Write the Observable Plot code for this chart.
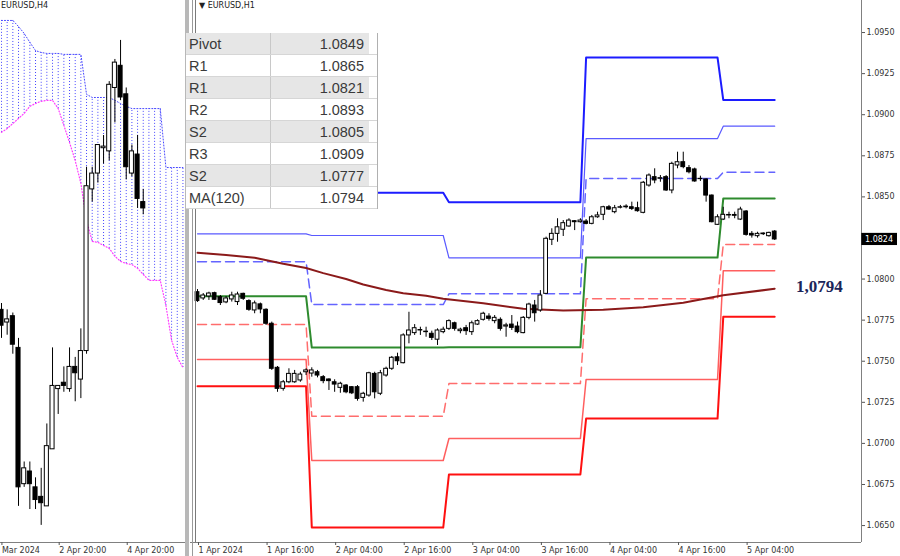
<!DOCTYPE html>
<html><head><meta charset="utf-8">
<script src="https://cdn.jsdelivr.net/npm/d3@7"></script>
<script src="https://cdn.jsdelivr.net/npm/@observablehq/plot@0.6"></script>
<style>
html,body{margin:0;padding:0;background:#fff;}
#wrap{position:relative;width:900px;height:556px;overflow:hidden;background:#fff;font-family:"DejaVu Sans",sans-serif;}
#left{position:absolute;left:0;top:0;width:186px;height:556px;overflow:hidden;}
#right{position:absolute;left:190px;top:0;width:710px;height:556px;}
.sym{position:absolute;top:1px;font-size:8px;color:#222;font-family:"DejaVu Sans",sans-serif;white-space:nowrap;}
#sepA{position:absolute;left:185px;top:0;width:4px;height:556px;background:#b8b8b8;}
#sepB{position:absolute;left:192px;top:0;width:1px;height:556px;background:#9a9a9a;}
#sepC{position:absolute;left:195px;top:0;width:1px;height:542px;background:#7a7a7a;}
#table{position:absolute;left:186px;top:33px;width:191px;background:#fff;border-right:1px solid #b0b0b0;}
.row{display:flex;height:22px;border-bottom:1px solid #d6d6d6;box-sizing:border-box;font-family:"Liberation Sans",sans-serif;font-size:14.5px;color:#3a3a3a;align-items:center;}
.row .lab{width:85px;padding-left:3px;box-sizing:border-box;height:100%;display:flex;align-items:center;border-right:1px solid #c8c8c8;}
.row .val{width:98px;text-align:right;padding-right:5px;box-sizing:border-box;}
.row.g .lab,.row.g .val{background:#e6e6e6;}
.row .val{height:100%;display:flex;align-items:center;justify-content:flex-end;}
</style></head>
<body>
<div id="wrap">
  <div id="left"></div>
  <div id="right"></div>
  <div id="sepA"></div><div id="sepB"></div><div id="sepC"></div>
  <div class="sym" style="left:1px;">EURUSD,H4</div>
  <div class="sym" style="left:199px;">&#9660; EURUSD,H1</div>
  <div id="table"></div>
</div>
<script>
// ---------- H1 candles (right panel), hour index from 1 Apr 00:00 ----------
const h1Start = 4;
const h1Open = [1.07920,1.07882,1.07894,1.07914,1.07890,1.07858,1.07876,1.07860,1.07910,1.07866,1.07809,1.07846,1.07813,1.07728,1.07460,1.07332,1.07372,1.07372,1.07383,1.07433,1.07425,1.07433,1.07403,1.07389,1.07372,1.07338,1.07352,1.07342,1.07342,1.07277,1.07291,1.07423,1.07302,1.07413,1.07454,1.07524,1.07488,1.07657,1.07671,1.07687,1.07680,1.07667,1.07631,1.07677,1.07697,1.07731,1.07683,1.07701,1.07677,1.07723,1.07752,1.07772,1.07744,1.07752,1.07711,1.07723,1.07711,1.07671,1.07764,1.07839,1.07809,1.07910,1.08239,1.08275,1.08300,1.08320,1.08352,1.08346,1.08350,1.08336,1.08376,1.08391,1.08437,1.08407,1.08434,1.08437,1.08437,1.08431,1.08403,1.08569,1.08620,1.08610,1.08620,1.08539,1.08691,1.08711,1.08675,1.08667,1.08608,1.08606,1.08508,1.08330,1.08362,1.08390,1.08390,1.08362,1.08411,1.08275,1.08261,1.08277,1.08261,1.08289];
const h1High = [1.07936,1.07912,1.07920,1.07920,1.07900,1.07894,1.07920,1.07920,1.07914,1.07874,1.07866,1.07854,1.07819,1.07738,1.07468,1.07383,1.07454,1.07444,1.07433,1.07454,1.07460,1.07444,1.07413,1.07393,1.07387,1.07372,1.07358,1.07346,1.07352,1.07311,1.07433,1.07433,1.07444,1.07464,1.07529,1.07549,1.07667,1.07798,1.07723,1.07707,1.07707,1.07683,1.07697,1.07707,1.07752,1.07738,1.07701,1.07718,1.07744,1.07752,1.07798,1.07789,1.07778,1.07764,1.07731,1.07778,1.07738,1.07772,1.07853,1.07870,1.07930,1.08255,1.08306,1.08367,1.08356,1.08367,1.08356,1.08367,1.08362,1.08387,1.08407,1.08443,1.08448,1.08448,1.08448,1.08452,1.08468,1.08468,1.08594,1.08640,1.08671,1.08630,1.08630,1.08711,1.08772,1.08772,1.08691,1.08675,1.08626,1.08610,1.08512,1.08391,1.08437,1.08407,1.08407,1.08437,1.08417,1.08289,1.08285,1.08281,1.08285,1.08295];
const h1Low = [1.07858,1.07870,1.07870,1.07870,1.07839,1.07850,1.07860,1.07839,1.07870,1.07804,1.07789,1.07789,1.07718,1.07444,1.07311,1.07318,1.07363,1.07366,1.07372,1.07413,1.07403,1.07399,1.07363,1.07322,1.07311,1.07305,1.07302,1.07297,1.07257,1.07251,1.07281,1.07271,1.07291,1.07403,1.07444,1.07474,1.07484,1.07606,1.07657,1.07657,1.07646,1.07626,1.07596,1.07667,1.07687,1.07683,1.07667,1.07657,1.07657,1.07718,1.07744,1.07744,1.07728,1.07683,1.07646,1.07687,1.07667,1.07667,1.07752,1.07738,1.07798,1.07906,1.08204,1.08224,1.08259,1.08315,1.08295,1.08340,1.08330,1.08330,1.08370,1.08356,1.08417,1.08397,1.08427,1.08427,1.08417,1.08407,1.08397,1.08559,1.08580,1.08589,1.08533,1.08519,1.08671,1.08671,1.08640,1.08589,1.08594,1.08468,1.08342,1.08326,1.08356,1.08367,1.08367,1.08356,1.08261,1.08249,1.08249,1.08265,1.08255,1.08235];
const h1Close = [1.07866,1.07900,1.07912,1.07874,1.07854,1.07882,1.07900,1.07906,1.07880,1.07813,1.07852,1.07815,1.07728,1.07454,1.07332,1.07372,1.07423,1.07423,1.07419,1.07444,1.07444,1.07413,1.07379,1.07379,1.07358,1.07363,1.07311,1.07305,1.07271,1.07302,1.07427,1.07311,1.07427,1.07454,1.07521,1.07500,1.07657,1.07687,1.07701,1.07690,1.07677,1.07642,1.07687,1.07692,1.07744,1.07697,1.07692,1.07683,1.07731,1.07744,1.07789,1.07758,1.07764,1.07697,1.07718,1.07703,1.07677,1.07764,1.07845,1.07792,1.07900,1.08245,1.08275,1.08315,1.08340,1.08356,1.08346,1.08356,1.08336,1.08376,1.08387,1.08437,1.08423,1.08431,1.08437,1.08441,1.08427,1.08413,1.08586,1.08630,1.08600,1.08614,1.08539,1.08701,1.08711,1.08681,1.08650,1.08594,1.08610,1.08508,1.08346,1.08376,1.08391,1.08387,1.08385,1.08423,1.08269,1.08265,1.08275,1.08273,1.08281,1.08241];

// ---------- daily pivot levels (1 Apr .. 5 Apr) ----------
const dayStart = [4, 24, 48, 72, 96];
const dayEnd   = [23, 47, 71, 95, 105];
const levelP  = [1.07895, 1.07583, 1.07585, 1.08131, 1.0849];
const levelR1 = [1.08106, 1.07845, 1.07910, 1.08612, 1.0865];
const levelR2 = [1.08275, 1.08265, 1.08129, 1.08855, 1.0893];
const levelR3 = [1.08491, 1.08525, 1.08468, 1.09348, 1.0909];
const levelS1 = [1.07723, 1.07165, 1.07364, 1.07880, 1.0821];
const levelS2 = [1.07510, 1.06896, 1.07030, 1.07389, 1.0805];
const levelS3 = [1.07348, 1.06488, 1.06811, 1.07151, 1.0777];

// ---------- MA(120) ----------
const maHours  = [4, 9, 14, 19, 23, 26, 30, 33, 37, 40, 44, 47, 54, 61, 68, 75, 82, 89, 96, 105];
const maValues = [1.08160,1.08146,1.08130,1.08093,1.08067,1.08036,1.08000,1.07967,1.07933,1.07914,1.07898,1.07880,1.07853,1.07819,1.07809,1.07813,1.07829,1.07856,1.07901,1.07941];

// ---------- axes ----------
const hTicks = [4, 16, 28, 40, 52, 64, 76, 88, 100];
const hTickLabels = ["1 Apr 2024","1 Apr 16:00","2 Apr 04:00","2 Apr 16:00","3 Apr 04:00","3 Apr 16:00","4 Apr 04:00","4 Apr 16:00","5 Apr 04:00"];
const priceTicks = [1.0650,1.0675,1.0700,1.0725,1.0750,1.0775,1.0800,1.0850,1.0875,1.0900,1.0925,1.0950];

// ---------- table ----------
const tableLabels = ["Pivot","R1","R1","R2","S2","R3","S2","MA(120)"];
const tableValues = ["1.0849","1.0865","1.0821","1.0893","1.0805","1.0909","1.0777","1.0794"];

// ---------- H4 candles (left panel), bar index ----------
const h4Open  = [1.0791,1.0787,1.0789,1.0779,1.0736,1.0740,1.0735,1.0732,1.0729,1.0747,1.0766,1.0768,1.0766,1.0773,1.0769,1.0778,1.0829,1.0834,1.0842,1.0841,1.0861,1.0868,1.0859,1.0834,1.0840,1.0825];
const h4High  = [1.0793,1.0791,1.0790,1.0782,1.0743,1.0743,1.0738,1.0741,1.0755,1.0779,1.0767,1.0773,1.0779,1.0776,1.0785,1.0836,1.0836,1.0843,1.0846,1.0863,1.0870,1.0876,1.0861,1.0843,1.0846,1.0829];
const h4Low   = [1.0782,1.0783,1.0777,1.0729,1.0735,1.0728,1.0728,1.0723,1.0729,1.0747,1.0758,1.0765,1.0765,1.0762,1.0763,1.0777,1.0825,1.0831,1.0837,1.0838,1.0850,1.0857,1.0832,1.0833,1.0823,1.0821];
const h4Close = [1.0786,1.0788,1.0780,1.0735,1.0741,1.0736,1.0731,1.0730,1.0748,1.0767,1.0767,1.0767,1.0773,1.0771,1.0778,1.0830,1.0834,1.0843,1.08425,1.0862,1.0869,1.0858,1.0836,1.0841,1.0826,1.0823];

// ---------- Ichimoku cloud (left panel) ----------
const cloudUpper = [1.08823,1.08823,1.08823,1.08804,1.08782,1.08754,1.08728,1.08722,1.08719,1.08719,1.08719,1.08716,1.08716,1.08716,1.08716,1.08590,1.08580,1.08580,1.08580,1.08580,1.08571,1.08561,1.08552,1.08545,1.08545,1.08545,1.08545,1.08545,1.08545,1.08359,1.08359,1.08359,1.08359];
const cloudLower = [1.08470,1.08482,1.08498,1.08514,1.08530,1.08552,1.08561,1.08568,1.08571,1.08571,1.08545,1.08492,1.08438,1.08381,1.08309,1.08192,1.08126,1.08123,1.08113,1.08104,1.08079,1.08063,1.08056,1.08053,1.08041,1.08022,1.08003,1.08003,1.08003,1.07924,1.07814,1.07760,1.07728];
const h4Ticks = [0.9, 11, 23];
const h4TickLabels = ["Mar 2024", "2 Apr 20:00", "4 Apr 20:00"];

// ---------------------------------------------------------------
function candles(t0, o, h, l, c, halfW) {
  const data = o.map((v, i) => ({t: t0 + i, open: v, high: h[i], low: l[i], close: c[i]}));
  return [
    Plot.ruleX(data, {x: "t", y1: "low", y2: "high", stroke: "#000", strokeWidth: 1}),
    Plot.rect(data, {
      x1: d => d.t - halfW, x2: d => d.t + halfW,
      y1: d => Math.min(d.open, d.close), y2: d => Math.max(d.open, d.close),
      fill: d => d.close >= d.open ? "#ffffff" : "#000000", stroke: "#000", strokeWidth: 1
    })
  ];
}
function levelLine(levels, style) {
  const pts = [];
  levels.forEach((v, d) => { pts.push({t: dayStart[d], v}); pts.push({t: dayEnd[d], v}); });
  return Plot.line(pts, {x: "t", y: "v", ...style});
}

const axisStyle = {fontFamily: "DejaVu Sans, sans-serif", fontSize: "8px", color: "#333", background: "transparent", overflow: "visible"};

// ---------- right panel ----------
const xMin = 2.775, xMax = 120.19, yMin = 1.06397, yMax = 1.09695;
const lastClose = h1Close[h1Close.length - 1];
const lastMA = maValues[maValues.length - 1];
const right = Plot.plot({
  width: 710, height: 556,
  marginLeft: 0, marginRight: 39, marginTop: 0, marginBottom: 14,
  style: axisStyle,
  color: {type: "identity"},
  x: {domain: [xMin, xMax], axis: null},
  y: {domain: [yMin, yMax], axis: null},
  marks: [
    Plot.ruleY([yMin], {stroke: "#808080"}),
    Plot.ruleX([xMax], {stroke: "#808080"}),
    Plot.axisY(priceTicks, {anchor: "right", label: null, tickSize: 3, tickPadding: 2, tickFormat: d => d.toFixed(4), stroke: "#555"}),
    Plot.axisX(hTicks, {anchor: "bottom", label: null, tickSize: 3, tickPadding: 2, textAnchor: "start", dx: 1, tickFormat: (d, i) => hTickLabels[i], stroke: "#555"}),
    levelLine(levelS3, {stroke: "#ff1010", strokeWidth: 2}),
    levelLine(levelS2, {stroke: "#ff5f5f", strokeWidth: 1.5}),
    levelLine(levelS1, {stroke: "#ff6d6d", strokeWidth: 1.5, strokeDasharray: "9,5"}),
    levelLine(levelR3, {stroke: "#1c1cff", strokeWidth: 2}),
    levelLine(levelR2, {stroke: "#5a5aff", strokeWidth: 1.2}),
    levelLine(levelR1, {stroke: "#6464ff", strokeWidth: 1.5, strokeDasharray: "9,5"}),
    levelLine(levelP, {stroke: "#2e8b2e", strokeWidth: 2}),
    Plot.line(maHours.map((t, i) => ({t, v: maValues[i]})), {x: "t", y: "v", stroke: "#8b1a1a", strokeWidth: 2}),
    ...candles(h1Start, h1Open, h1High, h1Low, h1Close, 0.33),
    Plot.text([lastMA], {x: maHours[maHours.length - 1] + 7.8, y: d => d, dy: -2, text: d => d.toFixed(4).replace(".", ","),
      fill: "#1b2559", fontFamily: "Liberation Serif, serif", fontWeight: "bold", fontSize: 17}),
    Plot.rect([lastClose], {x1: xMax + 0.05, x2: xMax + 6.3, y1: d => d - 0.00037, y2: d => d + 0.00037, fill: "#000"}),
    Plot.text([lastClose], {x: xMax, y: d => d, dx: 3.5, textAnchor: "start", text: d => d.toFixed(4), fill: "#fff", fontSize: 8})
  ]
});
document.getElementById("right").appendChild(right);

// ---------- left panel ----------
const lxMin = 0.8236, lxMax = 33.63, lyMin = 1.07176, lyMax = 1.08886;
const cloud = cloudUpper.map((u, i) => ({t: i + 1, upper: u, lower: cloudLower[i]}));
const left = Plot.plot({
  width: 186, height: 556,
  marginLeft: 0, marginRight: 0, marginTop: 0, marginBottom: 14,
  style: axisStyle,
  color: {type: "identity"},
  x: {domain: [lxMin, lxMax], axis: null},
  y: {domain: [lyMin, lyMax], axis: null},
  marks: [
    Plot.ruleY([lyMin], {stroke: "#808080"}),
    Plot.axisX(h4Ticks, {anchor: "bottom", label: null, tickSize: 3, tickPadding: 2, textAnchor: "start", dx: 1, tickFormat: (d, i) => h4TickLabels[i], stroke: "#555"}),
    Plot.ruleX(cloud, {x: "t", y1: "lower", y2: "upper", stroke: "#4646ff", strokeWidth: 1, strokeDasharray: "1,2"}),
    Plot.line(cloud, {x: "t", y: "upper", stroke: "#4646ff", strokeWidth: 1, strokeDasharray: "1,2"}),
    Plot.line(cloud, {x: "t", y: "lower", stroke: "#ff3cff", strokeWidth: 1.2, strokeDasharray: "1,2"}),
    ...candles(1, h4Open, h4High, h4Low, h4Close, 0.36)
  ]
});
document.getElementById("left").appendChild(left);

// ---------- table ----------
const tbl = document.getElementById("table");
tableLabels.forEach((lab, i) => {
  const row = document.createElement("div");
  row.className = "row" + (i % 2 === 0 ? " g" : "");
  const a = document.createElement("div"); a.className = "lab"; a.textContent = lab;
  const b = document.createElement("div"); b.className = "val"; b.textContent = tableValues[i];
  row.appendChild(a); row.appendChild(b);
  tbl.appendChild(row);
});
</script>
</body></html>
